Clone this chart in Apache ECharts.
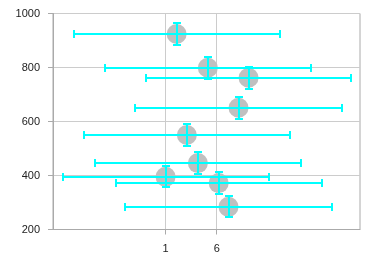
<!DOCTYPE html>
<html>
<head>
<meta charset="utf-8">
<script src="https://cdn.jsdelivr.net/npm/echarts@6/dist/echarts.min.js"></script>
<style>
  html, body { margin: 0; padding: 0; background: #fff; }
  #chart { width: 378px; height: 268px; }
</style>
</head>
<body>
<div id="chart"></div>
<script>
// point centres
var xValues = [2.08, 5.13, 9.11, 8.13, 3.08, 4.16, 1.0, 6.19, 7.15];
var yValues = [924, 799, 762, 651, 550, 446, 395, 372, 284];
// symmetric errors
var xErrors = [10.07, 10.07, 10.05, 10.07, 10.06, 10.09, 10.07, 10.07, 10.07];
var yErrors = [41, 41, 40, 40, 40, 40, 39, 40, 39];
// tick labels
var xTicks = [1, 6];
var yTicks = [200, 400, 600, 800, 1000];

var chart = echarts.init(document.getElementById("chart"));

var points = xValues.map(function (x, i) {
  return [x, yValues[i]];
});
var bars = xValues.map(function (x, i) {
  return [x, yValues[i], x - xErrors[i], x + xErrors[i], yValues[i] - yErrors[i], yValues[i] + yErrors[i]];
});

function renderErrorBar(params, api) {
  var x = api.value(0), y = api.value(1);
  var r = Math.round;
  var left = api.coord([api.value(2), y]);
  var right = api.coord([api.value(3), y]);
  var bottom = api.coord([x, api.value(4)]);
  var top = api.coord([x, api.value(5)]);
  var cap = 4;
  var style = { stroke: "#00ffff", lineWidth: 2 };
  function line(x1, y1, x2, y2) {
    return { type: "line", shape: { x1: r(x1), y1: r(y1), x2: r(x2), y2: r(y2) }, style: style };
  }
  return {
    type: "group",
    children: [
      line(left[0], left[1], right[0], right[1]),
      line(left[0], left[1] - cap, left[0], left[1] + cap),
      line(right[0], right[1] - cap, right[0], right[1] + cap),
      line(top[0], top[1], bottom[0], bottom[1]),
      line(top[0] - cap, top[1], top[0] + cap, top[1]),
      line(bottom[0] - cap, bottom[1], bottom[0] + cap, bottom[1])
    ]
  };
}

var option = {
  backgroundColor: "#fff",
  animation: false,
  grid: {
    left: 53,
    right: 18,
    top: 13.5,
    bottom: 38.5,
    show: true,
    borderColor: "#aaa",
    borderWidth: 1
  },
  xAxis: {
    type: "value",
    min: -10,
    max: 20,
    axisLine: { onZero: false, lineStyle: { color: "#aaa" } },
    axisTick: { show: true, length: 5, customValues: xTicks, lineStyle: { color: "#aaa" } },
    axisLabel: { customValues: xTicks, margin: 14, color: "#222", fontSize: 11, fontFamily: "Liberation Sans" },
    splitLine: { show: true, lineStyle: { color: "#ccc" } }
  },
  yAxis: {
    type: "value",
    min: yTicks[0],
    max: yTicks[yTicks.length - 1],
    interval: 200,
    axisLine: { show: true, onZero: false, lineStyle: { color: "#aaa" } },
    axisTick: { show: true, length: 5, lineStyle: { color: "#aaa" } },
    axisLabel: {
      margin: 13,
      color: "#222",
      fontSize: 11,
      fontFamily: "Liberation Sans",
      formatter: function (v) { return String(v); }
    },
    splitLine: { show: true, lineStyle: { color: "#ccc" } }
  },
  series: [
    {
      type: "scatter",
      data: points,
      symbolSize: 20,
      itemStyle: { color: "#c0c0c0", opacity: 1 },
      z: 2
    },
    {
      type: "custom",
      data: bars,
      renderItem: renderErrorBar,
      encode: { x: [0, 2, 3], y: [1, 4, 5] },
      z: 3
    }
  ]
};

chart.setOption(option);
</script>
</body>
</html>
